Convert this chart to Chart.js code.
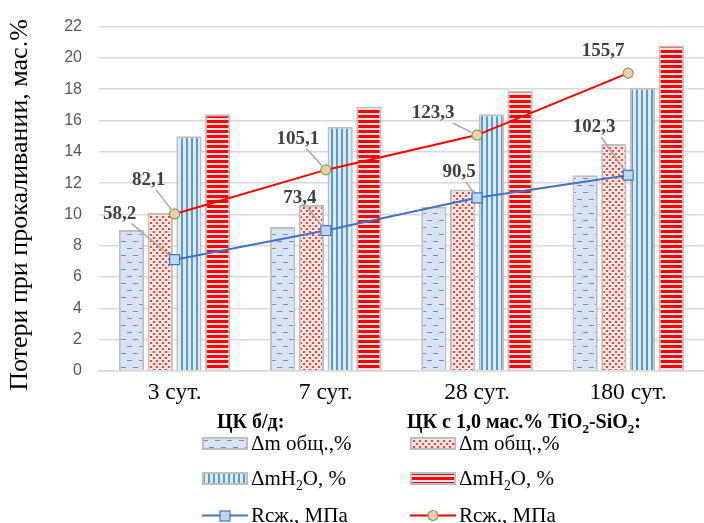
<!DOCTYPE html>
<html lang="ru">
<head>
<meta charset="UTF-8">
<title>Потери при прокаливании</title>
<script src="https://cdn.jsdelivr.net/npm/chart.js"></script>
<style>
  body { margin: 0; background: #fff; }
  #wrap { position: relative; width: 704px; height: 523px; overflow: hidden; }
  #chart { position: absolute; left: 0; top: 0; }
  .lg { position: absolute; font-family: "Liberation Serif", "Times New Roman", serif; color: #000; white-space: nowrap; }
  .lg-title { font-weight: bold; font-size: 20px; line-height: 20px; }
  .lg-item { font-size: 21px; line-height: 22px; }
  .lg canvas { vertical-align: middle; margin-right: 3px; position: relative; top: -2px; }
  sub { font-size: 0.65em; line-height: 0; }
</style>
</head>
<body>
<div id="wrap">
  <canvas id="chart" width="712" height="523"></canvas>

  <div class="lg lg-title" style="left:217px; top:411px;">ЦК б/д:</div>
  <div class="lg lg-title" style="left:407px; top:411px;">ЦК с 1,0 мас.% TiO<sub>2</sub>-SiO<sub>2</sub>:</div>

  <div class="lg lg-item" style="left:202px; top:432px;"><canvas id="sw0" width="46" height="13"></canvas>Δm общ.,%</div>
  <div class="lg lg-item" style="left:410px; top:432px;"><canvas id="sw1" width="46" height="13"></canvas>Δm общ.,%</div>
  <div class="lg lg-item" style="left:202px; top:467px;"><canvas id="sw2" width="46" height="13"></canvas>ΔmH<sub>2</sub>O, %</div>
  <div class="lg lg-item" style="left:410px; top:467px;"><canvas id="sw3" width="46" height="13"></canvas>ΔmH<sub>2</sub>O, %</div>
  <div class="lg lg-item" style="left:202px; top:504px;"><canvas id="sw4" width="46" height="13"></canvas>Rсж., МПа</div>
  <div class="lg lg-item" style="left:410px; top:504px;"><canvas id="sw5" width="46" height="13"></canvas>Rсж., МПа</div>
</div>

<script>
// данные
var categories = ['3 сут.', '7 сут.', '28 сут.', '180 сут.'];
var dmTotalBase = [9.0, 9.2, 10.5, 12.5];
var dmTotalTi = [10.1, 10.6, 11.6, 14.5];
var dmH2OBase = [15.0, 15.6, 16.4, 18.1];
var dmH2OTi = [16.4, 16.9, 17.9, 20.8];
var strengthBase = [58.2, 73.4, 90.5, 102.3];
var strengthTi = [82.1, 105.1, 123.3, 155.7];
var yTitle = 'Потери при прокаливании, мас.%';

// texturas das colunas
function makePattern(w, h, bg, draw) {
    var c = document.createElement('canvas');
    c.width = w; c.height = h;
    var g = c.getContext('2d');
    g.fillStyle = bg;
    g.fillRect(0, 0, w, h);
    draw(g);
    return g.createPattern(c, 'repeat');
}

var patDash = makePattern(12, 14, '#dae3f3', function (g) {
    g.fillStyle = '#5b9bd5';
    g.fillRect(1, 3, 5, 1);
    g.fillRect(7, 10, 5, 1);
});
var patDots = makePattern(6, 6, '#fce6df', function (g) {
    g.fillStyle = '#ff3b3b';
    g.fillRect(0, 0, 2, 2);
    g.fillRect(3, 3, 2, 2);
});
var patVert = makePattern(5, 4, '#deebf7', function (g) {
    g.fillStyle = '#5b9bd5';
    g.fillRect(1, 0, 2, 4);
});
var patHor = makePattern(4, 5, '#fde3df', function (g) {
    g.fillStyle = '#ff0000';
    g.fillRect(0, 0, 4, 3);
});

var barBorder = '#bfbfbf';

// posição dos rótulos (dx, dy, linha guia)
var labelPos = [
    [[-55, -46, true], [-26, -32, true], [-18, -26, true], [-34, -48, true]],
    [[-26, -34, true], [-28, -31, true], [-44, -22, true], [-25, -22, false]]
];

var labelPlugin = {
    id: 'rotulos',
    afterDatasetsDraw: function (chart) {
        var ctx = chart.ctx;
        ctx.save();
        ctx.font = 'bold 19px "Liberation Serif", "Times New Roman", serif';
        ctx.textAlign = 'center';
        ctx.textBaseline = 'middle';
        [4, 5].forEach(function (dsIndex, k) {
            var meta = chart.getDatasetMeta(dsIndex);
            var values = chart.data.datasets[dsIndex].data;
            meta.data.forEach(function (pt, i) {
                var off = labelPos[k][i];
                var cx = pt.x + off[0], cy = pt.y + off[1];
                var txt = values[i].toFixed(1).replace('.', ',');
                if (off[2]) {
                    var tw = ctx.measureText(txt).width;
                    var dx = pt.x - cx, dy = pt.y - cy;
                    var len = Math.sqrt(dx * dx + dy * dy);
                    var t = Math.min((tw / 2 + 2) / Math.abs(dx), 10 / Math.abs(dy));
                    ctx.beginPath();
                    ctx.strokeStyle = '#a6a6a6';
                    ctx.lineWidth = 1.5;
                    ctx.moveTo(cx + dx * t, cy + dy * t);
                    ctx.lineTo(pt.x - dx / len * 6, pt.y - dy / len * 6);
                    ctx.stroke();
                }
                ctx.fillStyle = '#404040';
                ctx.fillText(txt, cx, cy);
            });
        });
        ctx.restore();
    }
};

// título do eixo y (desenhado à mão pra ficar na mesma altura)
var yTitlePlugin = {
    id: 'tituloY',
    afterDraw: function (chart) {
        var ctx = chart.ctx;
        ctx.save();
        ctx.translate(20, 205);
        ctx.rotate(-Math.PI / 2);
        ctx.font = '26px "Liberation Serif", "Times New Roman", serif';
        ctx.fillStyle = '#000';
        ctx.textAlign = 'center';
        ctx.textBaseline = 'middle';
        ctx.fillText(yTitle, 0, 0);
        ctx.restore();
    }
};

var serif = '"Liberation Serif", "Times New Roman", serif';

new Chart(document.getElementById('chart'), {
    type: 'bar',
    data: {
        labels: categories,
        datasets: [
            { label: 'Δm общ.,% (б/д)', data: dmTotalBase, backgroundColor: patDash, borderColor: barBorder, borderWidth: 2, order: 2 },
            { label: 'Δm общ.,% (TiO2-SiO2)', data: dmTotalTi, backgroundColor: patDots, borderColor: barBorder, borderWidth: 2, order: 2 },
            { label: 'ΔmH2O, % (б/д)', data: dmH2OBase, backgroundColor: patVert, borderColor: barBorder, borderWidth: 2, order: 2 },
            { label: 'ΔmH2O, % (TiO2-SiO2)', data: dmH2OTi, backgroundColor: patHor, borderColor: barBorder, borderWidth: 2, order: 2 },
            {
                type: 'line', label: 'Rсж., МПа (б/д)', data: strengthBase, yAxisID: 'y2',
                borderColor: '#4472c4', borderWidth: 2, backgroundColor: '#bdd7ee',
                pointStyle: 'rect', pointRadius: 7, pointBorderColor: '#4472c4', pointBorderWidth: 1.2,
                pointBackgroundColor: '#bdd7ee', tension: 0, order: 0
            },
            {
                type: 'line', label: 'Rсж., МПа (TiO2-SiO2)', data: strengthTi, yAxisID: 'y2',
                borderColor: '#ff0000', borderWidth: 2, backgroundColor: '#f8cbad',
                pointStyle: 'circle', pointRadius: 5, pointBorderColor: '#70ad47', pointBorderWidth: 1.2,
                pointBackgroundColor: '#f8cbad', tension: 0, order: 0
            }
        ]
    },
    options: {
        responsive: false,
        animation: false,
        layout: { padding: { top: 23, right: 0, left: 0, bottom: 0 } },
        datasets: { bar: { categoryPercentage: 0.76, barPercentage: 0.88 } },
        plugins: { legend: { display: false }, tooltip: { enabled: false } },
        scales: {
            x: {
                grid: { display: false },
                border: { color: '#d9d9d9', width: 1.5 },
                ticks: { color: '#000', font: { family: serif, size: 23.5 }, padding: 0 },
                afterFit: function (s) { s.height = 152; }
            },
            y: {
                min: 0, max: 22,
                ticks: { stepSize: 2, color: '#595959', font: { family: '"Liberation Sans", Arial, sans-serif', size: 16 }, padding: 17 },
                grid: { color: '#d9d9d9', lineWidth: 1.5, drawTicks: false },
                border: { display: false },
                title: { display: false },
                afterFit: function (s) { s.width = 99; }
            },
            y2: { position: 'right', min: 0, max: 180, display: false }
        }
    },
    plugins: [labelPlugin, yTitlePlugin]
});

// amostras da legenda
function swatchBar(id, pat) {
    var g = document.getElementById(id).getContext('2d');
    g.fillStyle = pat;
    g.fillRect(1, 1, 44, 11);
    g.strokeStyle = barBorder;
    g.lineWidth = 2;
    g.strokeRect(1, 1, 44, 11);
}
function swatchLine(id, color, mark) {
    var g = document.getElementById(id).getContext('2d');
    g.strokeStyle = color;
    g.lineWidth = 2;
    g.beginPath(); g.moveTo(0, 6.5); g.lineTo(46, 6.5); g.stroke();
    g.lineWidth = 1.2;
    if (mark == 'rect') {
        g.fillStyle = '#bdd7ee'; g.strokeStyle = '#4472c4';
        g.fillRect(18, 2, 10, 10); g.strokeRect(18, 2, 10, 10);
    } else {
        g.fillStyle = '#f8cbad'; g.strokeStyle = '#70ad47';
        g.beginPath(); g.arc(23, 6.5, 5, 0, Math.PI * 2); g.fill(); g.stroke();
    }
}
swatchBar('sw0', patDash);
swatchBar('sw1', patDots);
swatchBar('sw2', patVert);
swatchBar('sw3', patHor);
swatchLine('sw4', '#4472c4', 'rect');
swatchLine('sw5', '#ff0000', 'circle');
</script>
</body>
</html>
